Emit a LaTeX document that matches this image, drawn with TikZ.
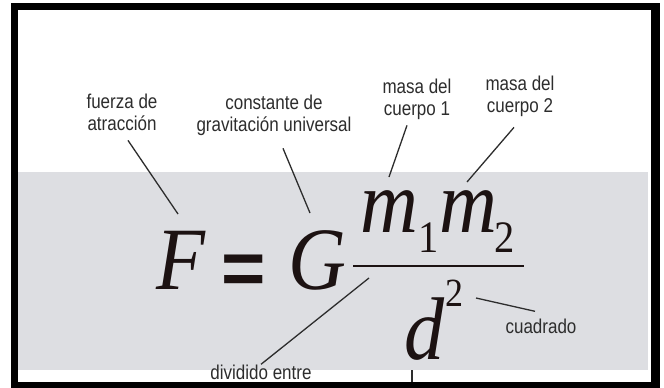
\documentclass[tikz,border=0pt]{standalone}
\usepackage{fontspec}
\usepackage{xcolor}
\usetikzlibrary{calc}
\newfontfamily\lblfont[FakeStretch=0.85]{Liberation Sans}
\newfontfamily\eqfont[FakeStretch=0.9]{Liberation Serif}
\newfontfamily\eqsign{Liberation Sans}
\newcommand\subdig{\upshape\fontsize{45}{45}\selectfont}
\definecolor{bandgray}{RGB}{221,222,226}
\definecolor{labelgray}{RGB}{45,45,45}
\definecolor{ink}{RGB}{28,18,18}

\begin{document}
\begin{tikzpicture}[x=1pt, y=-1pt,
  lbl/.style={inner sep=0pt, anchor=base, align=center, text=labelgray,
              font=\lblfont\fontsize{20}{22}\selectfont},
  big/.style={inner sep=0pt, anchor=base, text=ink,
              font=\eqfont\itshape\fontsize{89}{89}\selectfont},
  sup/.style={inner sep=0pt, anchor=base, text=ink,
              font=\eqfont\fontsize{40}{40}\selectfont},
  lead/.style={draw=labelgray, line width=1.3pt},
]
\useasboundingbox (0,0) rectangle (664,388);
% frame and band
\fill[white] (0,0) rectangle (664,388);
\fill[black] (11,3) rectangle (660,388);
\fill[white] (18,10) rectangle (651,382);
\fill[bandgray] (18,172) rectangle (648,370);

% formula
\node[big] (nF) at (181,289) {F};
\node[inner sep=0pt, anchor=base, text=ink, font=\eqsign\bfseries\fontsize{76}{76}\selectfont]
  (nEq) at (244,294) {=};
\node[big] (nG) at (317,289) {G};
\node[big] (nNum) at (438,232) {m\raisebox{-20pt}{\subdig 1}m\kern-2pt\raisebox{-20pt}{\subdig 2}};
\draw[ink, line width=2pt] (353,266) -- (524,266);
\node[big] (nD) at (425,359) {d};
\node[sup] (nSq) at (454,306) {2};

% labels
\node[lbl] (lblF) at (122,130) {fuerza de\\atracción};
\node[lbl] (lblG) at (274,131) {constante de\\gravitación universal};
\node[lbl] (lblM1) at (417,115) {masa del\\cuerpo 1};
\node[lbl] (lblM2) at (520,112) {masa del\\cuerpo 2};
\node[lbl] (lblDiv) at (261,379) {dividido entre};
\node[lbl] (lblSq) at (541,333) {cuadrado};

% leaders
\coordinate (tipF) at (178,214);
\coordinate (tipG) at (310,213);
\coordinate (tipM1) at (389,177);
\coordinate (tipM2) at (467,182);
\coordinate (tipDiv) at (369,278);
\coordinate (tipSq) at (476,298);
\coordinate (cut) at (412,382);
\draw[lead] (lblF.south) ++(6,10) -- (tipF);
\draw[lead] (lblG.south) ++(9,13) -- (tipG);
\draw[lead] (lblM1.south) ++(-10,6) -- (tipM1);
\draw[lead] (lblM2.south) ++(-6,11) -- (tipM2);
\draw[lead] (tipDiv) -- (lblDiv.north);
\draw[lead] (tipSq) -- ($(lblSq.north)+(-6,-7)$);
\draw[lead] (cut) -- ++(0,-12);
\end{tikzpicture}
\end{document}
